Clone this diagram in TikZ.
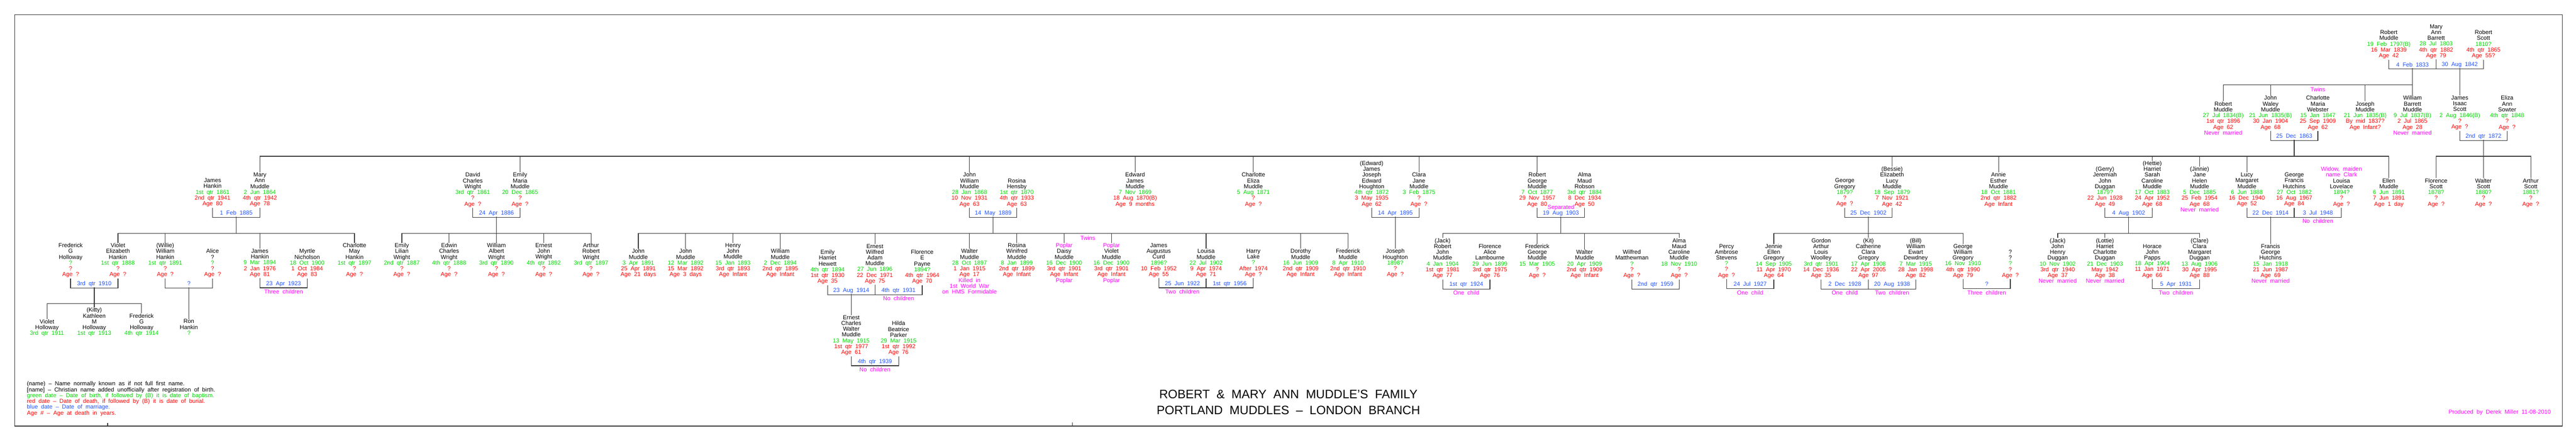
\documentclass[tikz,border=0pt]{standalone}
\usepackage{fontspec}
\setmainfont{Liberation Sans}[WordSpace=2]
\usetikzlibrary{positioning}
\definecolor{born}{RGB}{0,215,0}
\definecolor{died}{RGB}{255,0,0}
\definecolor{wed}{RGB}{30,80,255}
\definecolor{note}{RGB}{255,0,255}
\definecolor{rule}{RGB}{55,55,55}
\begin{document}
\begin{tikzpicture}[x=1.063cm, y=-0.01cm,
  every node/.style={inner sep=0pt, font=\fontsize{3.7}{3.7}\selectfont},
  pers/.style={align=center, anchor=north, execute at begin node=\strut, execute at end node=\strut},
  wdate/.style={text=wed, execute at begin node=\strut},
  remark/.style={text=note, execute at begin node=\strut},
  link/.style={draw=rule, line width=0.4pt}]
\useasboundingbox (-1.493,0) rectangle (52.9567,988);
\draw[link] (-1.1825,33) rectangle (52.665,956.7);
\draw[link] (0.7836,956.7) -- ++(0,-7.5);
\draw[link] (21.17,956.7) -- ++(0,-8.5);
% sibling bar levels
\coordinate (g2) at (0,190.7);
\coordinate (g3) at (0,351);
\coordinate (g4) at (0,524);
\coordinate (g5) at (0,682);

% Robert & Mary Ann
\node[pers] (rm) at (49,67.2) {Robert\\Muddle\\\textcolor{born}{19 Feb 1797(B)}\\\textcolor{died}{16 Mar 1839}\\\textcolor{died}{Age 42}};
\node[pers] (mab) at (50,54.2) {Mary\\Ann\\Barrett\\\textcolor{born}{28 Jul 1803}\\\textcolor{died}{4th qtr 1882}\\\textcolor{died}{Age 79}};
\node[pers] (rs) at (51,67.2) {Robert\\Scott\\\textcolor{born}{1810?}\\\textcolor{died}{4th qtr 1865}\\\textcolor{died}{Age 55?}};
\node[wdate] (rm-w) at (49.5,146.7) {4 Feb 1833};
\node[wdate] (rs-w) at (50.5,146.7) {30 Aug 1842};
\draw[link] (rm.south) -- ++(0,21) -| (rs.south) (mab.south) -- ++(0,21);
\coordinate (rm-k) at (49.5,153.3);
\coordinate (rs-k) at (50.5,153.3);

% second generation
\node[remark] (tw1) at (47.5,202.3) {Twins};
\node[pers] (rob) at (45.5,227.5) {Robert\\Muddle\\\textcolor{born}{27 Jul 1834(B)}\\\textcolor{died}{1st qtr 1896}\\\textcolor{died}{Age 62}\\\textcolor{note}{Never married}};
\node[pers] (jwm) at (46.5,214.5) {John\\Waley\\Muddle\\\textcolor{born}{21 Jun 1835(B)}\\\textcolor{died}{30 Jan 1904}\\\textcolor{died}{Age 68}};
\node[pers] (cmw) at (47.5,214.5) {Charlotte\\Maria\\Webster\\\textcolor{born}{15 Jan 1847}\\\textcolor{died}{25 Sep 1909}\\\textcolor{died}{Age 62}};
\node[pers] (jos) at (48.5,227.5) {Joseph\\Muddle\\\textcolor{born}{21 Jun 1835(B)}\\\textcolor{died}{By mid 1837?}\\\textcolor{died}{Age Infant?}};
\node[pers] (wbm) at (49.5,214.5) {William\\Barrett\\Muddle\\\textcolor{born}{9 Jul 1837(B)}\\\textcolor{died}{2 Jul 1865}\\\textcolor{died}{Age 28}\\\textcolor{note}{Never married}};
\node[pers] (jis) at (50.5,214.5) {James\\Isaac\\Scott\\\textcolor{born}{2 Aug 1846(B)}\\\textcolor{died}{?}\\\textcolor{died}{Age ?}};
\node[pers] (eas) at (51.5,214.5) {Eliza\\Ann\\Sowter\\\textcolor{born}{4th qtr 1848}\\\textcolor{died}{?}\\\textcolor{died}{Age ?}};
\draw[link] (rm-k) -- (wbm.north);
\draw[link] (rob.north) |- (wbm.north |- g2) (jwm.north) -- (jwm.north |- g2) (jos.north) -- (jos.north |- g2);
\draw[link] (rs-k) -- (jis.north);
\node[wdate] (jwm-w) at (47,306.7) {25 Dec 1863};
\node[wdate] (jis-w) at (51,306.7) {2nd qtr 1872};
\draw[link] (jwm.south) -- ++(0,21.5) -| (cmw.south);
\draw[link] (jis.south) -- ++(0,21.5) -| (eas.south);
\coordinate (jwm-k) at (47,314);
\coordinate (jis-k) at (51,314);

% third generation
\node[pers] (jhk) at (3,400.1) {James\\Hankin\\\textcolor{born}{1st qtr 1861}\\\textcolor{died}{2nd qtr 1941}\\\textcolor{died}{Age 80}};
\node[pers] (mam) at (4,387.1) {Mary\\Ann\\Muddle\\\textcolor{born}{2 Jun 1864}\\\textcolor{died}{4th qtr 1942}\\\textcolor{died}{Age 78}};
\node[pers] (dcw) at (8.5,387.1) {David\\Charles\\Wright\\\textcolor{born}{3rd qtr 1861}\\\textcolor{died}{?}\\\textcolor{died}{Age ?}};
\node[pers] (emm) at (9.5,387.1) {Emily\\Maria\\Muddle\\\textcolor{born}{20 Dec 1865}\\\textcolor{died}{?}\\\textcolor{died}{Age ?}};
\node[pers] (jwm3) at (19,387.1) {John\\William\\Muddle\\\textcolor{born}{28 Jan 1868}\\\textcolor{died}{10 Nov 1931}\\\textcolor{died}{Age 63}};
\node[pers] (rh) at (20,400.1) {Rosina\\Hensby\\\textcolor{born}{1st qtr 1870}\\\textcolor{died}{4th qtr 1933}\\\textcolor{died}{Age 63}};
\node[pers] (ejm) at (22.5,387.1) {Edward\\James\\Muddle\\\textcolor{born}{7 Nov 1869}\\\textcolor{died}{18 Aug 1870(B)}\\\textcolor{died}{Age 9 months}};
\node[pers] (cem) at (25,387.1) {Charlotte\\Eliza\\Muddle\\\textcolor{born}{5 Aug 1871}\\\textcolor{died}{?}\\\textcolor{died}{Age ?}};
\node[pers] (ejh) at (27.5,361.1) {(Edward)\\James\\Joseph\\Edward\\Houghton\\\textcolor{born}{4th qtr 1872}\\\textcolor{died}{3 May 1935}\\\textcolor{died}{Age 62}};
\node[pers] (cjm) at (28.5,387.1) {Clara\\Jane\\Muddle\\\textcolor{born}{3 Feb 1875}\\\textcolor{died}{?}\\\textcolor{died}{Age ?}};
\node[pers] (rgm) at (31,387.1) {Robert\\George\\Muddle\\\textcolor{born}{7 Oct 1877}\\\textcolor{died}{29 Nov 1957}\\\textcolor{died}{Age 80}};
\node[pers] (amr) at (32,387.1) {Alma\\Maud\\Robson\\\textcolor{born}{3rd qtr 1884}\\\textcolor{died}{8 Dec 1934}\\\textcolor{died}{Age 50}};
\node[pers] (gg) at (37.5,400.1) {George\\Gregory\\\textcolor{born}{1879?}\\\textcolor{died}{?}\\\textcolor{died}{Age ?}};
\node[pers] (bes) at (38.5,374.1) {(Bessie)\\Elizabeth\\Lucy\\Muddle\\\textcolor{born}{18 Sep 1879}\\\textcolor{died}{7 Nov 1921}\\\textcolor{died}{Age 42}};
\node[pers] (aem) at (40.75,387.1) {Annie\\Esther\\Muddle\\\textcolor{born}{18 Oct 1881}\\\textcolor{died}{2nd qtr 1882}\\\textcolor{died}{Age Infant}};
\node[pers] (jjd) at (43,374.1) {(Gerry)\\Jeremiah\\John\\Duggan\\\textcolor{born}{1879?}\\\textcolor{died}{22 Jun 1928}\\\textcolor{died}{Age 49}};
\node[pers] (hsc) at (44,361.1) {(Hettie)\\Harriet\\Sarah\\Caroline\\Muddle\\\textcolor{born}{17 Oct 1883}\\\textcolor{died}{24 Apr 1952}\\\textcolor{died}{Age 68}};
\node[pers] (jhm) at (45,374.1) {(Jinnie)\\Jane\\Helen\\Muddle\\\textcolor{born}{5 Dec 1885}\\\textcolor{died}{25 Feb 1954}\\\textcolor{died}{Age 68}\\\textcolor{note}{Never married}};
\node[pers] (lmm) at (46,387.1) {Lucy\\Margaret\\Muddle\\\textcolor{born}{6 Jun 1888}\\\textcolor{died}{16 Dec 1940}\\\textcolor{died}{Age 52}};
\node[pers] (gfh) at (47,387.1) {George\\Francis\\Hutchins\\\textcolor{born}{27 Oct 1882}\\\textcolor{died}{16 Aug 1967}\\\textcolor{died}{Age 84}};
\node[pers] (ll) at (48,374.1) {\textcolor{note}{Widow, maiden}\\\textcolor{note}{name Clark}\\Louisa\\Lovelace\\\textcolor{born}{1894?}\\\textcolor{died}{?}\\\textcolor{died}{Age ?}};
\node[pers] (elm) at (49,400.1) {Ellen\\Muddle\\\textcolor{born}{6 Jun 1891}\\\textcolor{died}{7 Jun 1891}\\\textcolor{died}{Age 1 day}};
\node[pers] (fs) at (50,400.1) {Florence\\Scott\\\textcolor{born}{1878?}\\\textcolor{died}{?}\\\textcolor{died}{Age ?}};
\node[pers] (ws) at (51,400.1) {Walter\\Scott\\\textcolor{born}{1880?}\\\textcolor{died}{?}\\\textcolor{died}{Age ?}};
\node[pers] (as) at (52,400.1) {Arthur\\Scott\\\textcolor{born}{1881?}\\\textcolor{died}{?}\\\textcolor{died}{Age ?}};
\draw[link] (jwm-k) -- (jwm-k |- g3);
\draw[link] (mam.north) |- (elm.north |- g3) -- (elm.north)
  (emm.north) -- (emm.north |- g3) (jwm3.north) -- (jwm3.north |- g3)
  (ejm.north) -- (ejm.north |- g3) (cem.north) -- (cem.north |- g3)
  (cjm.north) -- (cjm.north |- g3) (rgm.north) -- (rgm.north |- g3)
  (bes.north) -- (bes.north |- g3) (aem.north) -- (aem.north |- g3)
  (hsc.north) -- (hsc.north |- g3) (jhm.north) -- (jhm.north |- g3)
  (lmm.north) -- (lmm.north |- g3);
\draw[link] (jis-k) -- (ws.north) (fs.north) |- (as.north |- g3) -- (as.north);
% marriages
\node[wdate] (jhk-w) at (3.5,479.6) {1 Feb 1885};
\node[wdate] (dcw-w) at (9,479.6) {24 Apr 1886};
\node[wdate] (jwm3-w) at (19.5,479.6) {14 May 1889};
\node[wdate] (ejh-w) at (28,479.6) {14 Apr 1895};
\node[remark] (sep) at (31.5,467) {Separated};
\node[wdate] (rgm-w) at (31.5,479.6) {19 Aug 1903};
\node[wdate] (gg-w) at (38,479.6) {25 Dec 1902};
\node[wdate] (jjd-w) at (43.5,479.6) {4 Aug 1902};
\node[wdate] (lmm-w) at (46.5,479.6) {22 Dec 1914};
\node[wdate] (ll-w) at (47.5,479.6) {3 Jul 1948};
\node[remark] (ll-c) at (47.5,498.6) {No children};
\draw[link] (jhk.south) -- ++(0,21.5) -| (mam.south);
\draw[link] (dcw.south) -- ++(0,21.5) -| (emm.south);
\draw[link] (jwm3.south) -- ++(0,21.5) -| (rh.south);
\draw[link] (ejh.south) -- ++(0,21.5) -| (cjm.south);
\draw[link] (rgm.south) -- ++(0,21.5) -| (amr.south);
\draw[link] (gg.south) -- ++(0,21.5) -| (bes.south);
\draw[link] (jjd.south) -- ++(0,21.5) -| (hsc.south);
\draw[link] (lmm.south) -- ++(0,21.5) -| (ll.south) (gfh.south) -- ++(0,21.5);
\coordinate (jhk-k) at (3.5,486.6);
\coordinate (dcw-k) at (9,486.6);
\coordinate (jwm3-k) at (19.5,486.6);
\coordinate (ejh-k) at (28,486.6);
\coordinate (rgm-k) at (31.5,486.6);
\coordinate (gg-k) at (38,486.6);
\coordinate (jjd-k) at (43.5,486.6);
\coordinate (lmm-k) at (46.5,486.6);

% fourth generation
\node[pers] (fgho) at (0,545.5) {Frederick\\G\\Holloway\\\textcolor{born}{?}\\\textcolor{died}{?}\\\textcolor{died}{Age ?}};
\node[pers] (veh) at (1,545.5) {Violet\\Elizabeth\\Hankin\\\textcolor{born}{1st qtr 1888}\\\textcolor{died}{?}\\\textcolor{died}{Age ?}};
\node[pers] (wh) at (2,545.5) {(Willie)\\William\\Hankin\\\textcolor{born}{1st qtr 1891}\\\textcolor{died}{?}\\\textcolor{died}{Age ?}};
\node[pers] (al) at (3,558.5) {Alice\\?\\\textcolor{born}{?}\\\textcolor{died}{?}\\\textcolor{died}{Age ?}};
\node[pers] (jah) at (4,558.5) {James\\Hankin\\\textcolor{born}{9 Mar 1894}\\\textcolor{died}{2 Jan 1976}\\\textcolor{died}{Age 81}};
\node[pers] (mn) at (5,558.5) {Myrtle\\Nicholson\\\textcolor{born}{18 Oct 1900}\\\textcolor{died}{1 Oct 1984}\\\textcolor{died}{Age 83}};
\node[pers] (cmh) at (6,545.5) {Charlotte\\May\\Hankin\\\textcolor{born}{1st qtr 1897}\\\textcolor{died}{?}\\\textcolor{died}{Age ?}};
\node[pers] (elw) at (7,545.5) {Emily\\Lilian\\Wright\\\textcolor{born}{2nd qtr 1887}\\\textcolor{died}{?}\\\textcolor{died}{Age ?}};
\node[pers] (ecw) at (8,545.5) {Edwin\\Charles\\Wright\\\textcolor{born}{4th qtr 1888}\\\textcolor{died}{?}\\\textcolor{died}{Age ?}};
\node[pers] (waw) at (9,545.5) {William\\Albert\\Wright\\\textcolor{born}{3rd qtr 1890}\\\textcolor{died}{?}\\\textcolor{died}{Age ?}};
\node[pers] (ejw) at (10,545.5) {Ernest\\John\\Wright\\\textcolor{born}{4th qtr 1892}\\\textcolor{died}{?}\\\textcolor{died}{Age ?}};
\node[pers] (arw) at (11,545.5) {Arthur\\Robert\\Wright\\\textcolor{born}{3rd qtr 1897}\\\textcolor{died}{?}\\\textcolor{died}{Age ?}};
\node[pers] (jm1) at (12,558.5) {John\\Muddle\\\textcolor{born}{3 Apr 1891}\\\textcolor{died}{25 Apr 1891}\\\textcolor{died}{Age 21 days}};
\node[pers] (jm2) at (13,558.5) {John\\Muddle\\\textcolor{born}{12 Mar 1892}\\\textcolor{died}{15 Mar 1892}\\\textcolor{died}{Age 3 days}};
\node[pers] (hjm) at (14,545.5) {Henry\\John\\Muddle\\\textcolor{born}{15 Jan 1893}\\\textcolor{died}{3rd qtr 1893}\\\textcolor{died}{Age Infant}};
\node[pers] (wm) at (15,558.5) {William\\Muddle\\\textcolor{born}{2 Dec 1894}\\\textcolor{died}{2nd qtr 1895}\\\textcolor{died}{Age Infant}};
\node[pers] (ehh) at (16,560.5) {Emily\\Harriet\\Hewett\\\textcolor{born}{4th qtr 1894}\\\textcolor{died}{1st qtr 1930}\\\textcolor{died}{Age 35}};
\node[pers] (ewa) at (17,547.5) {Ernest\\Wilfred\\Adam\\Muddle\\\textcolor{born}{27 Jun 1896}\\\textcolor{died}{22 Dec 1971}\\\textcolor{died}{Age 75}};
\node[pers] (fep) at (18,560.5) {Florence\\E\\Payne\\\textcolor{born}{1894?}\\\textcolor{died}{4th qtr 1964}\\\textcolor{died}{Age 70}};
\node[pers] (wam) at (19,558.5) {Walter\\Muddle\\\textcolor{born}{28 Oct 1897}\\\textcolor{died}{1 Jan 1915}\\\textcolor{died}{Age 17}\\\textcolor{note}{Killed in}\\\textcolor{note}{1st World War}\\\textcolor{note}{on HMS Formidable}};
\node[pers] (rwm) at (20,545.5) {Rosina\\Winifred\\Muddle\\\textcolor{born}{8 Jan 1899}\\\textcolor{died}{2nd qtr 1899}\\\textcolor{died}{Age Infant}};
\node[remark] (tw2) at (21.5,536) {Twins};
\node[pers] (pdm) at (21,545.5) {\textcolor{note}{Poplar}\\Daisy\\Muddle\\\textcolor{born}{16 Dec 1900}\\\textcolor{died}{3rd qtr 1901}\\\textcolor{died}{Age Infant}\\\textcolor{note}{Poplar}};
\node[pers] (pvm) at (22,545.5) {\textcolor{note}{Poplar}\\Violet\\Muddle\\\textcolor{born}{16 Dec 1900}\\\textcolor{died}{3rd qtr 1901}\\\textcolor{died}{Age Infant}\\\textcolor{note}{Poplar}};
\node[pers] (jac) at (23,545.5) {James\\Augustus\\Curd\\\textcolor{born}{1896?}\\\textcolor{died}{10 Feb 1952}\\\textcolor{died}{Age 55}};
\node[pers] (lm) at (24,558.5) {Louisa\\Muddle\\\textcolor{born}{22 Jul 1902}\\\textcolor{died}{9 Apr 1974}\\\textcolor{died}{Age 71}};
\node[pers] (hl) at (25,558.5) {Harry\\Lake\\\textcolor{born}{?}\\\textcolor{died}{After 1974}\\\textcolor{died}{Age ?}};
\node[pers] (dm) at (26,558.5) {Dorothy\\Muddle\\\textcolor{born}{16 Jun 1909}\\\textcolor{died}{2nd qtr 1909}\\\textcolor{died}{Age Infant}};
\node[pers] (fm) at (27,558.5) {Frederick\\Muddle\\\textcolor{born}{8 Apr 1910}\\\textcolor{died}{2nd qtr 1910}\\\textcolor{died}{Age Infant}};
\node[pers] (joh) at (28,558.5) {Joseph\\Houghton\\\textcolor{born}{1898?}\\\textcolor{died}{?}\\\textcolor{died}{Age ?}};
\node[pers] (rjm) at (29,534.5) {(Jack)\\Robert\\John\\Muddle\\\textcolor{born}{4 Jan 1904}\\\textcolor{died}{1st qtr 1981}\\\textcolor{died}{Age 77}};
\node[pers] (fal) at (30,547.5) {Florence\\Alice\\Lambourne\\\textcolor{born}{29 Jun 1899}\\\textcolor{died}{3rd qtr 1975}\\\textcolor{died}{Age 76}};
\node[pers] (fgm) at (31,547.5) {Frederick\\George\\Muddle\\\textcolor{born}{15 Mar 1905}\\\textcolor{died}{?}\\\textcolor{died}{Age ?}};
\node[pers] (wlm) at (32,560.5) {Walter\\Muddle\\\textcolor{born}{20 Apr 1909}\\\textcolor{died}{2nd qtr 1909}\\\textcolor{died}{Age Infant}};
\node[pers] (wfm) at (33,560.5) {Wilfred\\Matthewman\\\textcolor{born}{?}\\\textcolor{died}{?}\\\textcolor{died}{Age ?}};
\node[pers] (amc) at (34,534.5) {Alma\\Maud\\Caroline\\Muddle\\\textcolor{born}{18 Nov 1910}\\\textcolor{died}{?}\\\textcolor{died}{Age ?}};
\node[pers] (pas) at (35,547.5) {Percy\\Ambrose\\Stevens\\\textcolor{born}{?}\\\textcolor{died}{?}\\\textcolor{died}{Age ?}};
\node[pers] (jeg) at (36,547.5) {Jennie\\Ellen\\Gregory\\\textcolor{born}{14 Sep 1905}\\\textcolor{died}{11 Apr 1970}\\\textcolor{died}{Age 64}};
\node[pers] (gaw) at (37,534.5) {Gordon\\Arthur\\Louis\\Woolley\\\textcolor{born}{3rd qtr 1901}\\\textcolor{died}{14 Dec 1936}\\\textcolor{died}{Age 35}};
\node[pers] (kcg) at (38,534.5) {(Kit)\\Catherine\\Clara\\Gregory\\\textcolor{born}{17 Apr 1908}\\\textcolor{died}{22 Apr 2005}\\\textcolor{died}{Age 97}};
\node[pers] (bwd) at (39,534.5) {(Bill)\\William\\Ewart\\Dewdney\\\textcolor{born}{7 Mar 1915}\\\textcolor{died}{28 Jan 1998}\\\textcolor{died}{Age 82}};
\node[pers] (gwg) at (40,547.5) {George\\William\\Gregory\\\textcolor{born}{16 Nov 1910}\\\textcolor{died}{4th qtr 1990}\\\textcolor{died}{Age 79}};
\node[pers] (unk) at (41,560.5) {?\\?\\\textcolor{born}{?}\\\textcolor{died}{?}\\\textcolor{died}{Age ?}};
\node[pers] (jhd) at (42,534.5) {(Jack)\\John\\Henry\\Duggan\\\textcolor{born}{10 Nov 1902}\\\textcolor{died}{3rd qtr 1940}\\\textcolor{died}{Age 37}\\\textcolor{note}{Never married}};
\node[pers] (hcd) at (43,534.5) {(Lottie)\\Harriet\\Charlotte\\Duggan\\\textcolor{born}{21 Dec 1903}\\\textcolor{died}{May 1942}\\\textcolor{died}{Age 38}\\\textcolor{note}{Never married}};
\node[pers] (hjp) at (44,547.5) {Horace\\John\\Papps\\\textcolor{born}{18 Apr 1904}\\\textcolor{died}{11 Jan 1971}\\\textcolor{died}{Age 66}};
\node[pers] (cmd) at (45,534.5) {(Clare)\\Clara\\Margaret\\Duggan\\\textcolor{born}{13 Aug 1906}\\\textcolor{died}{30 Apr 1995}\\\textcolor{died}{Age 88}};
\node[pers] (fgh) at (46.5,547.5) {Francis\\George\\Hutchins\\\textcolor{born}{15 Jan 1918}\\\textcolor{died}{21 Jun 1987}\\\textcolor{died}{Age 69}\\\textcolor{note}{Never married}};
\draw[link] (jhk-k) -- (jhk-k |- g4);
\draw[link] (veh.north) |- (cmh.north |- g4) -- (cmh.north)
  (wh.north) -- (wh.north |- g4) (jah.north) -- (jah.north |- g4);
\draw[link] (dcw-k) -- (waw.north);
\draw[link] (elw.north) |- (arw.north |- g4) -- (arw.north)
  (ecw.north) -- (ecw.north |- g4) (ejw.north) -- (ejw.north |- g4);
\draw[link] (jwm3-k) -- (jwm3-k |- g4);
\draw[link] (jm1.north) |- (fm.north |- g4) -- (fm.north)
  (jm2.north) -- (jm2.north |- g4) (hjm.north) -- (hjm.north |- g4)
  (wm.north) -- (wm.north |- g4) (ewa.north) -- (ewa.north |- g4)
  (wam.north) -- (wam.north |- g4) (rwm.north) -- (rwm.north |- g4)
  (pdm.north) -- (pdm.north |- g4) (pvm.north) -- (pvm.north |- g4)
  (lm.north) -- (lm.north |- g4) (dm.north) -- (dm.north |- g4);
\draw[link] (ejh-k) -- (joh.north);
\draw[link] (rgm-k) -- (rgm-k |- g4);
\draw[link] (rjm.north) |- (amc.north |- g4) -- (amc.north)
  (fgm.north) -- (fgm.north |- g4) (wlm.north) -- (wlm.north |- g4);
\draw[link] (gg-k) -- (kcg.north);
\draw[link] (jeg.north) |- (gwg.north |- g4) -- (gwg.north);
\draw[link] (jjd-k) -- (jjd-k |- g4);
\draw[link] (jhd.north) |- (cmd.north |- g4) -- (cmd.north) (hcd.north) -- (hcd.north |- g4);
\draw[link] (lmm-k) -- (fgh.north);
% marriages
\node[wdate] (fgho-w) at (0.5,638) {3rd qtr 1910};
\node[wdate] (wh-w) at (2.5,638) {?};
\node[wdate] (jah-w) at (4.5,638) {23 Apr 1923};
\node[remark] (jah-c) at (4.5,657) {Three children};
\node[wdate] (ehh-w) at (16.5,653) {23 Aug 1914};
\node[wdate] (fep-w) at (17.5,653) {4th qtr 1931};
\node[remark] (fep-c) at (17.5,672) {No children};
\node[wdate] (jac-w) at (23.5,638) {25 Jun 1922};
\node[wdate] (hl-w) at (24.5,638) {1st qtr 1956};
\node[remark] (jac-c) at (23.5,657) {Two children};
\node[wdate] (rjm-w) at (29.5,640) {1st qtr 1924};
\node[remark] (rjm-c) at (29.5,659) {One child};
\node[wdate] (wfm-w) at (33.5,640) {2nd qtr 1959};
\node[wdate] (pas-w) at (35.5,640) {24 Jul 1927};
\node[remark] (pas-c) at (35.5,659) {One child};
\node[wdate] (gaw-w) at (37.5,640) {2 Dec 1928};
\node[remark] (gaw-c) at (37.5,659) {One child};
\node[wdate] (bwd-w) at (38.5,640) {20 Aug 1938};
\node[remark] (bwd-c) at (38.5,659) {Two children};
\node[wdate] (gwg-w) at (40.5,640) {?};
\node[remark] (gwg-c) at (40.5,659) {Three children};
\node[wdate] (hjp-w) at (44.5,640) {5 Apr 1931};
\node[remark] (hjp-c) at (44.5,659) {Two children};
\draw[link] (fgho.south) -- ++(0,21.5) -| (veh.south);
\draw[link] (wh.south) -- ++(0,21.5) -| (al.south);
\draw[link] (jah.south) -- ++(0,21.5) -| (mn.south);
\draw[link] (ehh.south) -- ++(0,21.5) -| (fep.south) (ewa.south) -- ++(0,21.5);
\draw[link] (jac.south) -- ++(0,21.5) -| (hl.south) (lm.south) -- ++(0,21.5);
\draw[link] (rjm.south) -- ++(0,21.5) -| (fal.south);
\draw[link] (wfm.south) -- ++(0,21.5) -| (amc.south);
\draw[link] (pas.south) -- ++(0,21.5) -| (jeg.south);
\draw[link] (gaw.south) -- ++(0,21.5) -| (bwd.south) (kcg.south) -- ++(0,21.5);
\draw[link] (gwg.south) -- ++(0,21.5) -| (unk.south);
\draw[link] (hjp.south) -- ++(0,21.5) -| (cmd.south);
\coordinate (fgho-k) at (0.5,645);
\coordinate (wh-k) at (2.5,645);
\coordinate (ehh-k) at (16.5,660);

% fifth generation
\node[pers] (vh) at (-0.5,716.5) {Violet\\Holloway\\\textcolor{born}{3rd qtr 1911}};
\node[pers] (kmh) at (0.5,690.5) {(Kitty)\\Kathleen\\M\\Holloway\\\textcolor{born}{1st qtr 1913}};
\node[pers] (fgy) at (1.5,703.5) {Frederick\\G\\Holloway\\\textcolor{born}{4th qtr 1914}};
\node[pers] (rhk) at (2.5,716.5) {Ron\\Hankin\\\textcolor{born}{?}};
\node[pers] (ecm) at (16.5,707.5) {Ernest\\Charles\\Walter\\Muddle\\\textcolor{born}{13 May 1915}\\\textcolor{died}{1st qtr 1977}\\\textcolor{died}{Age 61}};
\node[pers] (hbp) at (17.5,720.5) {Hilda\\Beatrice\\Parker\\\textcolor{born}{29 Mar 1915}\\\textcolor{died}{1st qtr 1992}\\\textcolor{died}{Age 76}};
\draw[link] (fgho-k) -- (kmh.north) (vh.north) |- (fgy.north |- g5) -- (fgy.north);
\draw[link] (wh-k) -- (rhk.north);
\draw[link] (ehh-k) -- (ecm.north);
\node[wdate] (ecm-w) at (17,813) {4th qtr 1939};
\node[remark] (ecm-c) at (17,832) {No children};
\draw[link] (ecm.south) -- ++(0,21.5) -| (hbp.south);

% key, title and credit
\node[align=left, anchor=north west, execute at begin node=\strut, execute at end node=\strut] (key) at (-0.9285,856.2)
  {(name) -- Name normally known as if not full first name.\\{}[name] -- Christian name added unofficially after registration of birth.\\
   \textcolor{born}{green date -- Date of birth, if followed by (B) it is date of baptism.}\\
   \textcolor{died}{red date -- Date of death, if followed by (B) it is date of burial.}\\
   \textcolor{wed}{blue date -- Date of marriage.}\\
   \textcolor{died}{Age \# -- Age at death in years.}};
\node[font=\fontsize{7.8}{7.8}\selectfont] (title) at (25.74,885.7) {ROBERT \& MARY ANN MUDDLE'S FAMILY};
\node[font=\fontsize{7.8}{7.8}\selectfont, below=1.46mm of title] (branch) {PORTLAND MUDDLES -- LONDON BRANCH};
\node[remark, anchor=east] (credit) at (52.43,927) {Produced by Derek Miller 11-08-2010};
\end{tikzpicture}
\end{document}
